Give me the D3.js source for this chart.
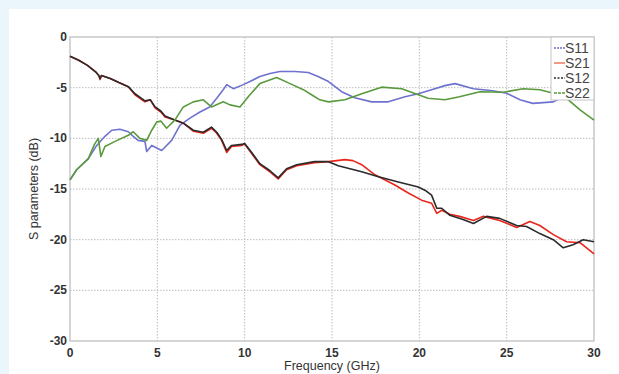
<!DOCTYPE html>
<meta charset='utf-8'>
<style>
  body {
    margin: 0;
    background-color: #eaf5fc;
    font-family: Arial, 'Liberation Sans', Helvetica, sans-serif;
  }
  #viz svg { display: block; }
  .grid line { stroke: #bdbdbd; stroke-dasharray: 1.5,1.5; }
  .tickText { fill: #333; font-size: 12px; font-weight: bold; }
  .axisTitle { fill: #333; font-size: 12.5px; }
  .legendText { fill: #444; font-size: 14px; }
</style>
<head>
  <title>S parameters</title>
</head>
<body>
  <div id='viz'></div>
<script src='https://d3js.org/d3.v7.min.js'></script>
<script>

// Tick values for both axes
var xTicks = [0, 5, 10, 15, 20, 25, 30];
var yTicks = [0, -5, -10, -15, -20, -25, -30];

// Series names in legend order
var seriesNames = ['S11', 'S21', 'S12', 'S22'];

// Frequency (GHz), dB pairs
var s11 = [[0,-14.1],[0.38,-13.1],[1.05,-12.0],[1.53,-10.7],[2.0,-9.8],[2.39,-9.2],[2.86,-9.1],
  [3.34,-9.35],[3.62,-9.8],[3.9,-10.2],[4.29,-10.3],[4.39,-11.3],[4.68,-10.7],[5.25,-11.2],
  [5.82,-10.2],[6.3,-8.7],[6.87,-8.0],[7.44,-7.4],[8.0,-6.9],[8.4,-6.05],[8.77,-5.2],[8.97,-4.7],
  [9.35,-5.1],[9.92,-4.7],[10.3,-4.4],[10.87,-3.9],[11.45,-3.6],[12.02,-3.4],[12.88,-3.4],
  [13.64,-3.5],[14.2,-3.9],[14.8,-4.4],[15.55,-5.4],[16.3,-6.0],[17.27,-6.4],[18.22,-6.4],
  [19.18,-5.9],[19.94,-5.6],[20.7,-5.2],[21.46,-4.8],[22.05,-4.6],[23.1,-5.1],[24.2,-5.3],
  [25.0,-5.55],[25.76,-6.2],[26.5,-6.55],[27.67,-6.4],[28.24,-5.9],[29.0,-5.5],[30,-5.1]];

var s21 = [[0,-1.9],[0.5,-2.3],[1.0,-2.8],[1.5,-3.5],[1.65,-3.8],[1.72,-4.2],[1.8,-3.8],[2.3,-4.1],
  [2.8,-4.5],[3.34,-4.9],[3.72,-5.7],[4.29,-6.4],[4.6,-6.2],[4.87,-7.0],[5.2,-7.4],[5.44,-7.9],
  [6.0,-8.2],[6.49,-8.5],[7.06,-9.3],[7.63,-9.5],[8.1,-9.0],[8.4,-9.5],[8.68,-10.2],[8.97,-11.4],
  [9.25,-10.8],[9.83,-10.7],[10.0,-10.55],[10.4,-11.5],[10.87,-12.6],[11.45,-13.3],[11.92,-14.0],
  [12.4,-13.1],[12.98,-12.7],[14.0,-12.4],[14.8,-12.3],[15.74,-12.1],[16.2,-12.2],[16.7,-12.6],
  [17.46,-13.6],[18.6,-14.6],[19.37,-15.4],[20.13,-16.1],[20.7,-16.4],[21.0,-17.4],[21.28,-17.1],
  [21.75,-17.5],[22.3,-17.7],[23.1,-18.1],[23.67,-17.7],[24.6,-18.1],[25.57,-18.8],[26.33,-18.2],
  [26.9,-18.6],[27.67,-19.5],[28.43,-20.2],[29.2,-20.3],[30,-21.4]];

var s12 = [[0,-1.9],[0.5,-2.3],[1.0,-2.8],[1.5,-3.5],[1.65,-3.8],[1.72,-4.1],[1.8,-3.8],[2.3,-4.1],
  [2.8,-4.5],[3.34,-4.9],[3.72,-5.6],[4.29,-6.3],[4.6,-6.2],[4.87,-6.9],[5.2,-7.3],[5.44,-7.8],
  [6.0,-8.2],[6.49,-8.5],[7.06,-9.2],[7.63,-9.4],[8.1,-8.9],[8.4,-9.4],[8.68,-10.1],[8.97,-11.2],
  [9.25,-10.7],[9.83,-10.6],[10.0,-10.5],[10.4,-11.4],[10.87,-12.5],[11.45,-13.2],[11.92,-13.9],
  [12.4,-13.0],[12.98,-12.6],[14.0,-12.3],[14.8,-12.3],[15.36,-12.7],[16.7,-13.3],[17.66,-13.8],
  [18.8,-14.3],[19.94,-14.8],[20.4,-15.2],[20.7,-15.6],[21.0,-16.9],[21.28,-16.9],[21.75,-17.6],
  [22.5,-18.0],[23.1,-18.4],[23.85,-17.7],[24.6,-17.9],[25.57,-18.6],[26.14,-18.7],[26.9,-19.4],
  [27.67,-20.0],[28.24,-20.8],[28.8,-20.5],[29.38,-20.0],[30,-20.2]];

var s22 = [[0,-14.1],[0.38,-13.1],[1.05,-12.0],[1.4,-10.6],[1.62,-10.0],[1.77,-11.8],[2.0,-10.8],
  [2.58,-10.3],[3.34,-9.7],[3.62,-9.35],[4.0,-10.0],[4.39,-10.2],[4.68,-9.2],[4.96,-8.4],
  [5.2,-8.3],[5.53,-9.0],[6.0,-8.2],[6.49,-6.9],[7.06,-6.4],[7.63,-6.2],[8.1,-6.9],[8.77,-6.4],
  [9.16,-6.7],[9.73,-6.9],[10.3,-5.7],[10.87,-4.6],[11.83,-4.0],[12.6,-4.6],[13.36,-5.2],
  [13.83,-5.7],[14.3,-6.2],[14.8,-6.4],[15.74,-6.2],[16.7,-5.6],[17.84,-4.95],[18.99,-5.1],
  [19.94,-5.7],[20.5,-6.05],[21.46,-6.2],[22.3,-5.9],[23.47,-5.4],[24.8,-5.45],[25.95,-5.1],
  [26.9,-5.2],[27.67,-5.55],[28.43,-6.05],[29.2,-7.2],[30,-8.2]];

// Series table with colours and legend dash styles
var series = [
  {name: seriesNames[0], values: s11, color: '#6e72cf', dash: '2,1'},
  {name: seriesNames[1], values: s21, color: '#e8261c', dash: null},
  {name: seriesNames[2], values: s12, color: '#2b2b2b', dash: '2,1.5'},
  {name: seriesNames[3], values: s22, color: '#5a9a3c', dash: '3,1'}
];

// Page and plot dimensions
var W = 619, H = 374;
var margin = {top: 37, right: 25, bottom: 33, left: 70},
    width = W - margin.left - margin.right,
    height = H - margin.top - margin.bottom;

var xScale = d3.scaleLinear().domain([0, 30]).range([0, width]);
var yScale = d3.scaleLinear().domain([-30, 0]).range([height, 0]);

var svg = d3.select('#viz').append('svg')
    .attr('width', W)
    .attr('height', H);

// White panel on the light blue page
svg.append('rect')
    .attr('x', 9).attr('y', 9)
    .attr('width', W - 9).attr('height', H - 9)
    .attr('fill', '#ffffff');

var g = svg.append('g')
    .attr('transform', 'translate(' + margin.left + ',' + margin.top + ')');

// Dotted grid lines
var grid = g.append('g').attr('class', 'grid');
grid.selectAll('.gx')
    .data(xTicks.slice(1, -1))
    .enter().append('line')
    .attr('x1', function(d) { return xScale(d); })
    .attr('x2', function(d) { return xScale(d); })
    .attr('y1', 0).attr('y2', height);
grid.selectAll('.gy')
    .data(yTicks.slice(1, -1))
    .enter().append('line')
    .attr('y1', function(d) { return yScale(d); })
    .attr('y2', function(d) { return yScale(d); })
    .attr('x1', 0).attr('x2', width);

// Plot frame
g.append('rect')
    .attr('width', width).attr('height', height)
    .attr('fill', 'none')
    .attr('stroke', '#b9b9b9')
    .attr('stroke-width', 1.2);

// Tick labels
g.selectAll('.xt')
    .data(xTicks)
    .enter().append('text')
    .attr('class', 'tickText')
    .attr('x', function(d) { return xScale(d); })
    .attr('y', height + 16)
    .attr('text-anchor', 'middle')
    .text(function(d) { return d; });

g.selectAll('.yt')
    .data(yTicks)
    .enter().append('text')
    .attr('class', 'tickText')
    .attr('x', -3)
    .attr('y', function(d) { return yScale(d) + 4; })
    .attr('text-anchor', 'end')
    .text(function(d) { return d; });

// Axis titles
g.append('text')
    .attr('class', 'axisTitle')
    .attr('x', width / 2)
    .attr('y', height + 29)
    .attr('text-anchor', 'middle')
    .text('Frequency (GHz)');

g.append('text')
    .attr('class', 'axisTitle')
    .attr('transform', 'translate(' + (-32) + ',' + (height / 2) + ') rotate(-90)')
    .attr('text-anchor', 'middle')
    .text('S parameters (dB)');

// Curves
var line = d3.line()
    .x(function(d) { return xScale(d[0]); })
    .y(function(d) { return yScale(d[1]); });

g.selectAll('.curve')
    .data(series)
    .enter().append('path')
    .attr('class', 'curve')
    .attr('fill', 'none')
    .attr('stroke', function(d) { return d.color; })
    .attr('stroke-width', 1.6)
    .attr('stroke-linejoin', 'round')
    .attr('d', function(d) { return line(d.values); });

// Legend box in top right corner
var legend = g.append('g')
    .attr('transform', 'translate(' + (width - 43) + ',0)');

legend.append('rect')
    .attr('width', 43).attr('height', 63)
    .attr('fill', '#ffffff')
    .attr('stroke', '#c4c4c4');

var item = legend.selectAll('.item')
    .data(series)
    .enter().append('g')
    .attr('transform', function(d, i) { return 'translate(0,' + (11 + i * 15) + ')'; });

item.append('line')
    .attr('x1', 3).attr('x2', 14)
    .attr('stroke', function(d) { return d.name === 'S21' ? '#f0806a' : d.color; })
    .attr('stroke-width', 1.6)
    .attr('stroke-dasharray', function(d) { return d.dash; });

item.append('text')
    .attr('class', 'legendText')
    .attr('x', 14)
    .attr('y', 5)
    .text(function(d) { return d.name; });

</script>
</body>
